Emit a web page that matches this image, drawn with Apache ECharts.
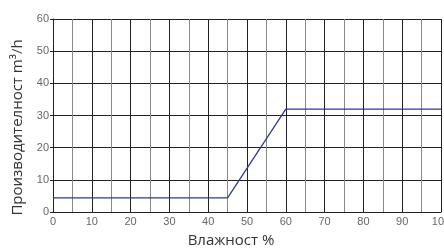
<!DOCTYPE html>
<html>
<head>
<meta charset="utf-8">
<script src="https://cdn.jsdelivr.net/npm/echarts@6/dist/echarts.min.js"></script>
<style>
  html, body { margin: 0; padding: 0; background: #fff; }
  #chart { width: 444px; height: 248px; }
</style>
</head>
<body>
<div id="chart"></div>
<script>
// данни: влажност (%) -> производителност (m3/h)
var humidity = [0, 45, 60, 100];
var capacity = [4.4, 4.4, 32, 32];
var xTitle = 'Влажност %';
var yTitle = 'Производителност m³/h';

(function () {
  var myChart = echarts.init(document.getElementById('chart'));

  var points = humidity.map(function (h, i) { return [h, capacity[i]]; });

  var option = {
    animation: false,
    grid: { left: 53, right: 3, top: 19, bottom: 36, outerBoundsMode: 'none' },
    xAxis: {
      type: 'value',
      min: 0,
      max: 100,
      interval: 5,
      name: xTitle,
      nameLocation: 'middle',
      nameGap: 21,
      nameTextStyle: { fontFamily: 'Open Sans', fontSize: 15, color: '#333', padding: [0, 32, 0, 0] },
      axisLine: { show: true, lineStyle: { color: '#222', width: 1 } },
      axisTick: { show: false },
      axisLabel: {
        fontFamily: 'Liberation Sans', fontSize: 11, color: '#666', margin: 4,
        formatter: function (v) { return v % 10 === 0 ? v : ''; }
      },
      splitLine: { show: true, lineStyle: { color: ['#222', '#888'], width: 1 } }
    },
    yAxis: {
      type: 'value',
      min: 0,
      max: 60,
      interval: 10,
      name: yTitle,
      nameLocation: 'middle',
      nameGap: 28,
      nameTextStyle: { fontFamily: 'Open Sans', fontSize: 15, color: '#333', padding: [0, 24, 0, 0] },
      axisLine: { show: true, lineStyle: { color: '#222', width: 1 } },
      axisTick: { show: true, length: 3, lineStyle: { color: '#222' } },
      axisLabel: { fontFamily: 'Liberation Sans', fontSize: 11, color: '#666', margin: 4 },
      splitLine: { show: true, lineStyle: { color: '#222', width: 1 } }
    },
    series: [{
      type: 'line',
      data: points,
      showSymbol: false,
      lineStyle: { color: '#2e3a94', width: 1.3 }
    }]
  };

  myChart.setOption(option);
  window.addEventListener('resize', function () {
    myChart.resize();
  });
})();
</script>
</body>
</html>
